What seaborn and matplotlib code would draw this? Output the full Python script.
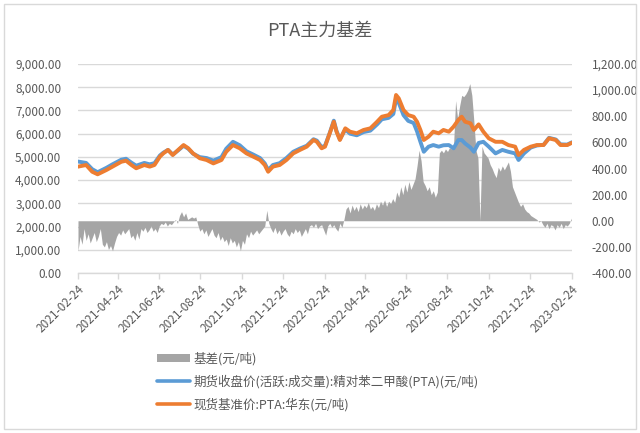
import numpy as np
import pandas as pd
import matplotlib
matplotlib.use("Agg")
import matplotlib.pyplot as plt
import seaborn as sns
from matplotlib.lines import Line2D
from matplotlib.patches import Patch, Rectangle
from matplotlib.ticker import FuncFormatter, MultipleLocator, FixedLocator, FixedFormatter
import matplotlib.dates as mdates

# ---------------- data ----------------
price_dates = ["2021-02-24","2021-03-08","2021-03-17","2021-03-25","2021-04-07","2021-04-16","2021-04-29","2021-05-06","2021-05-14","2021-05-21",
               "2021-06-02","2021-06-10","2021-06-17","2021-06-25","2021-06-30","2021-07-07","2021-07-14","2021-07-22","2021-07-30","2021-08-06",
               "2021-08-13","2021-08-23","2021-09-02","2021-09-12","2021-09-24","2021-10-01","2021-10-11","2021-10-21","2021-10-31","2021-11-10",
               "2021-11-20","2021-11-27","2021-12-02","2021-12-09","2021-12-19","2021-12-29","2022-01-08","2022-01-18","2022-01-28","2022-02-07",
               "2022-02-12","2022-02-19","2022-02-24","2022-03-03","2022-03-09","2022-03-13","2022-03-18","2022-03-26","2022-04-02","2022-04-12",
               "2022-04-22","2022-05-02","2022-05-12","2022-05-19","2022-05-29","2022-06-05","2022-06-09","2022-06-13","2022-06-20","2022-06-27",
               "2022-07-05","2022-07-10","2022-07-15","2022-07-20","2022-07-27","2022-08-03","2022-08-11","2022-08-18","2022-08-26","2022-09-02",
               "2022-09-09","2022-09-14","2022-09-19","2022-09-27","2022-10-02","2022-10-09","2022-10-16","2022-10-24","2022-11-03","2022-11-13",
               "2022-11-22","2022-12-02","2022-12-07","2022-12-15","2022-12-25","2023-01-03","2023-01-13","2023-01-21","2023-01-31","2023-02-07",
               "2023-02-17","2023-02-24"]

spot_price = [4580,4650,4360,4250,4435,4580,4790,4835,4650,4510,
              4650,4580,4650,5010,5150,5300,5080,5300,5510,5370,
              5150,4940,4866,4720,4866,5220,5510,5370,5150,5010,
              4866,4650,4360,4580,4650,4866,5150,5300,5440,5727,
              5650,5370,5440,6015,6515,6085,5727,6230,6085,6015,
              6160,6230,6515,6730,6800,7020,7665,7520,7020,6800,
              6730,6515,6160,5727,5870,6085,6015,6160,6085,6300,
              6590,6730,6515,6445,6160,6400,6085,5800,5650,5650,
              5510,5440,5080,5300,5440,5510,5510,5800,5727,5510,
              5510,5610]

futures_price = [4800,4740,4470,4340,4530,4680,4880,4920,4750,4620,
                 4740,4680,4730,5060,5180,5300,5100,5280,5480,5350,
                 5140,4990,4950,4840,4990,5350,5650,5500,5240,5100,
                 4950,4720,4430,4650,4730,4950,5220,5360,5480,5760,
                 5700,5420,5480,6030,6560,6120,5760,6180,6000,5930,
                 6070,6130,6400,6620,6680,6850,7500,7330,6800,6550,
                 6460,6100,5650,5220,5440,5510,5440,5500,5510,5370,
                 5727,5727,5580,5400,5220,5600,5650,5440,5150,5300,
                 5220,5150,4866,5150,5400,5490,5520,5820,5750,5540,
                 5530,5630]

# basis sampled every 3 days from 2021-02-24
basis_start = "2021-02-24"
basis_step_days = 3
basis_values = [
    -230,-120,-180,-60,-150,-100,-170,-130,-90,-160,
    -120,-60,-180,-200,-160,-220,-190,-230,-170,-120,
    -90,-110,-70,-100,-80,-60,-130,-110,-150,-90,
    -140,-60,-80,-50,-90,-70,-40,-80,-60,-90,
    -40,-20,-30,-10,-40,-20,-30,-10,10,-20,
    40,70,30,60,10,20,30,20,30,-30,
    -80,-60,-100,-70,-120,-90,-60,-110,-130,-90,
    -150,-120,-160,-140,-190,-130,-170,-150,-200,-160,
    -230,-150,-180,-100,-130,-80,-110,-90,-70,-100,
    -80,-60,-40,80,-20,-60,-90,-50,-100,-70,
    -110,-80,-60,-100,-120,-80,-100,-60,-90,-70,
    -120,-90,-60,-100,-40,-30,-50,-20,-60,-40,
    -30,-70,-110,-40,-20,-50,-30,-60,-80,-20,
    -50,10,90,110,60,120,80,110,70,130,
    90,120,100,140,90,110,80,130,100,150,
    120,160,110,150,130,170,140,220,180,260,
    200,280,220,300,240,280,320,420,540,460,
    300,270,230,260,200,230,180,220,520,540,
    520,550,530,560,550,580,920,780,880,960,
    950,970,1000,1050,960,760,540,480,0,570,
    520,500,480,430,400,360,330,410,380,420,
    390,420,450,380,260,220,180,140,110,130,
    90,70,60,40,30,20,10,-10,0,-30,
    -50,-20,-60,-30,-40,-70,-30,-50,-20,-60,
    -30,-40,-20,20]

x_tick_dates = ["2021-02-24","2021-04-24","2021-06-24","2021-08-24","2021-10-24","2021-12-24","2022-02-24",
                "2022-04-24","2022-06-24","2022-08-24","2022-10-24","2022-12-24","2023-02-24"]

title_text = "PTA主力基差"
label_basis = "基差(元/吨)"
label_futures = "期货收盘价(活跃:成交量):精对苯二甲酸(PTA)(元/吨)"
label_spot = "现货基准价:PTA:华东(元/吨)"

# ---------------- frames ----------------
prices = pd.DataFrame({"date": pd.to_datetime(price_dates),
                       "futures": futures_price, "spot": spot_price})
basis = pd.DataFrame({"date": pd.date_range(basis_start, periods=len(basis_values),
                                            freq=f"{basis_step_days}D"),
                      "basis": basis_values})

# ---------------- style ----------------
sns.set_theme(style="white")
plt.rcParams["font.family"] = ["Noto Sans CJK SC", "DejaVu Sans"]

TXT = "#595959"
GRID = "#D9D9D9"
C_BLUE = "#5B9BD5"
C_ORANGE = "#ED7D31"
C_GRAY = "#A5A5A5"

fig = plt.figure(figsize=(6.4, 4.33), dpi=100)
fig.patch.set_facecolor("white")

rect = [78/640, 1-273/433, 494/640, 209/433]
ax = fig.add_axes(rect)          # grid + left axis
ax2 = ax.twinx()                 # basis area (right axis)
ax3 = ax.twinx()                 # price lines on top

ax.set_zorder(0)
ax2.set_zorder(1)
ax3.set_zorder(2)
for a in (ax2, ax3):
    a.patch.set_visible(False)

xmin, xmax = pd.Timestamp(x_tick_dates[0]), pd.Timestamp(x_tick_dates[-1])

# basis area
ax2.fill_between(basis["date"], 0, basis["basis"], color=C_GRAY, lw=0)
ax2.set_ylim(-400, 1200)
ax2.yaxis.set_major_locator(MultipleLocator(200))
ax2.yaxis.set_major_formatter(FuncFormatter(lambda v, p: f"{v:,.2f}"))

# lines
sns.lineplot(data=prices, x="date", y="futures", ax=ax3, color=C_BLUE, lw=2.8, legend=False)
sns.lineplot(data=prices, x="date", y="spot", ax=ax3, color=C_ORANGE, lw=2.8, legend=False)
ax3.set_ylim(0, 9000)
ax3.set_yticks([])
ax3.set_xlabel("")
ax3.set_ylabel("")

ax.set_ylim(0, 9000)
ax.yaxis.set_major_locator(MultipleLocator(1000))
ax.yaxis.set_major_formatter(FuncFormatter(lambda v, p: f"{v:,.2f}"))
ax.yaxis.grid(True, color=GRID, lw=1)
ax.set_axisbelow(True)

for a in (ax, ax2, ax3):
    for s in a.spines.values():
        s.set_visible(False)
ax.spines["bottom"].set_visible(True)
ax.spines["bottom"].set_color(GRID)
ax.spines["bottom"].set_linewidth(1)

ticks = pd.to_datetime(x_tick_dates)
tick_nums = mdates.date2num(ticks)
ax.set_xlim(mdates.date2num(xmin), mdates.date2num(xmax))
ax.xaxis.set_major_locator(FixedLocator(tick_nums))
ax.xaxis.set_major_formatter(FixedFormatter([t.strftime("%Y-%m-%d") for t in ticks]))
ax.xaxis.set_minor_locator(FixedLocator([]))
for lab in ax.get_xticklabels():
    lab.set_rotation(45)
    lab.set_ha("right")
    lab.set_rotation_mode("anchor")
for a in (ax2, ax3):
    a.tick_params(axis="x", which="both", bottom=False, top=False,
                  labelbottom=False, labeltop=False)
ax.tick_params(axis="x", direction="out", length=4, width=1, color=GRID,
               labelcolor=TXT, labelsize=8.5, pad=3, bottom=True, labelbottom=True)
ax.tick_params(axis="y", length=0, labelcolor=TXT, labelsize=8.5, pad=12)
ax2.tick_params(axis="y", length=0, labelcolor=TXT, labelsize=8.5, pad=14)
ax.set_xlabel("")
ax.set_ylabel("")

# title
fig.text(0.5, 1-31/433, title_text, ha="center", va="center", fontsize=13, color=TXT)

# legend
handles = [Patch(facecolor=C_GRAY, edgecolor="none"),
           Line2D([], [], color=C_BLUE, lw=2.6),
           Line2D([], [], color=C_ORANGE, lw=2.6)]
leg = fig.legend(handles, [label_basis, label_futures, label_spot],
                 loc="upper left", bbox_to_anchor=(152/640, 1-347/433),
                 frameon=False, fontsize=9, labelcolor=TXT,
                 handlelength=2.6, handletextpad=0.3, labelspacing=0.75,
                 borderaxespad=0)

# chart border
fig.patches.append(Rectangle((4/640, 4/433), 632/640, 425/433, transform=fig.transFigure,
                             fill=False, ec=GRID, lw=1))

fig.savefig("out.png", dpi=100)
